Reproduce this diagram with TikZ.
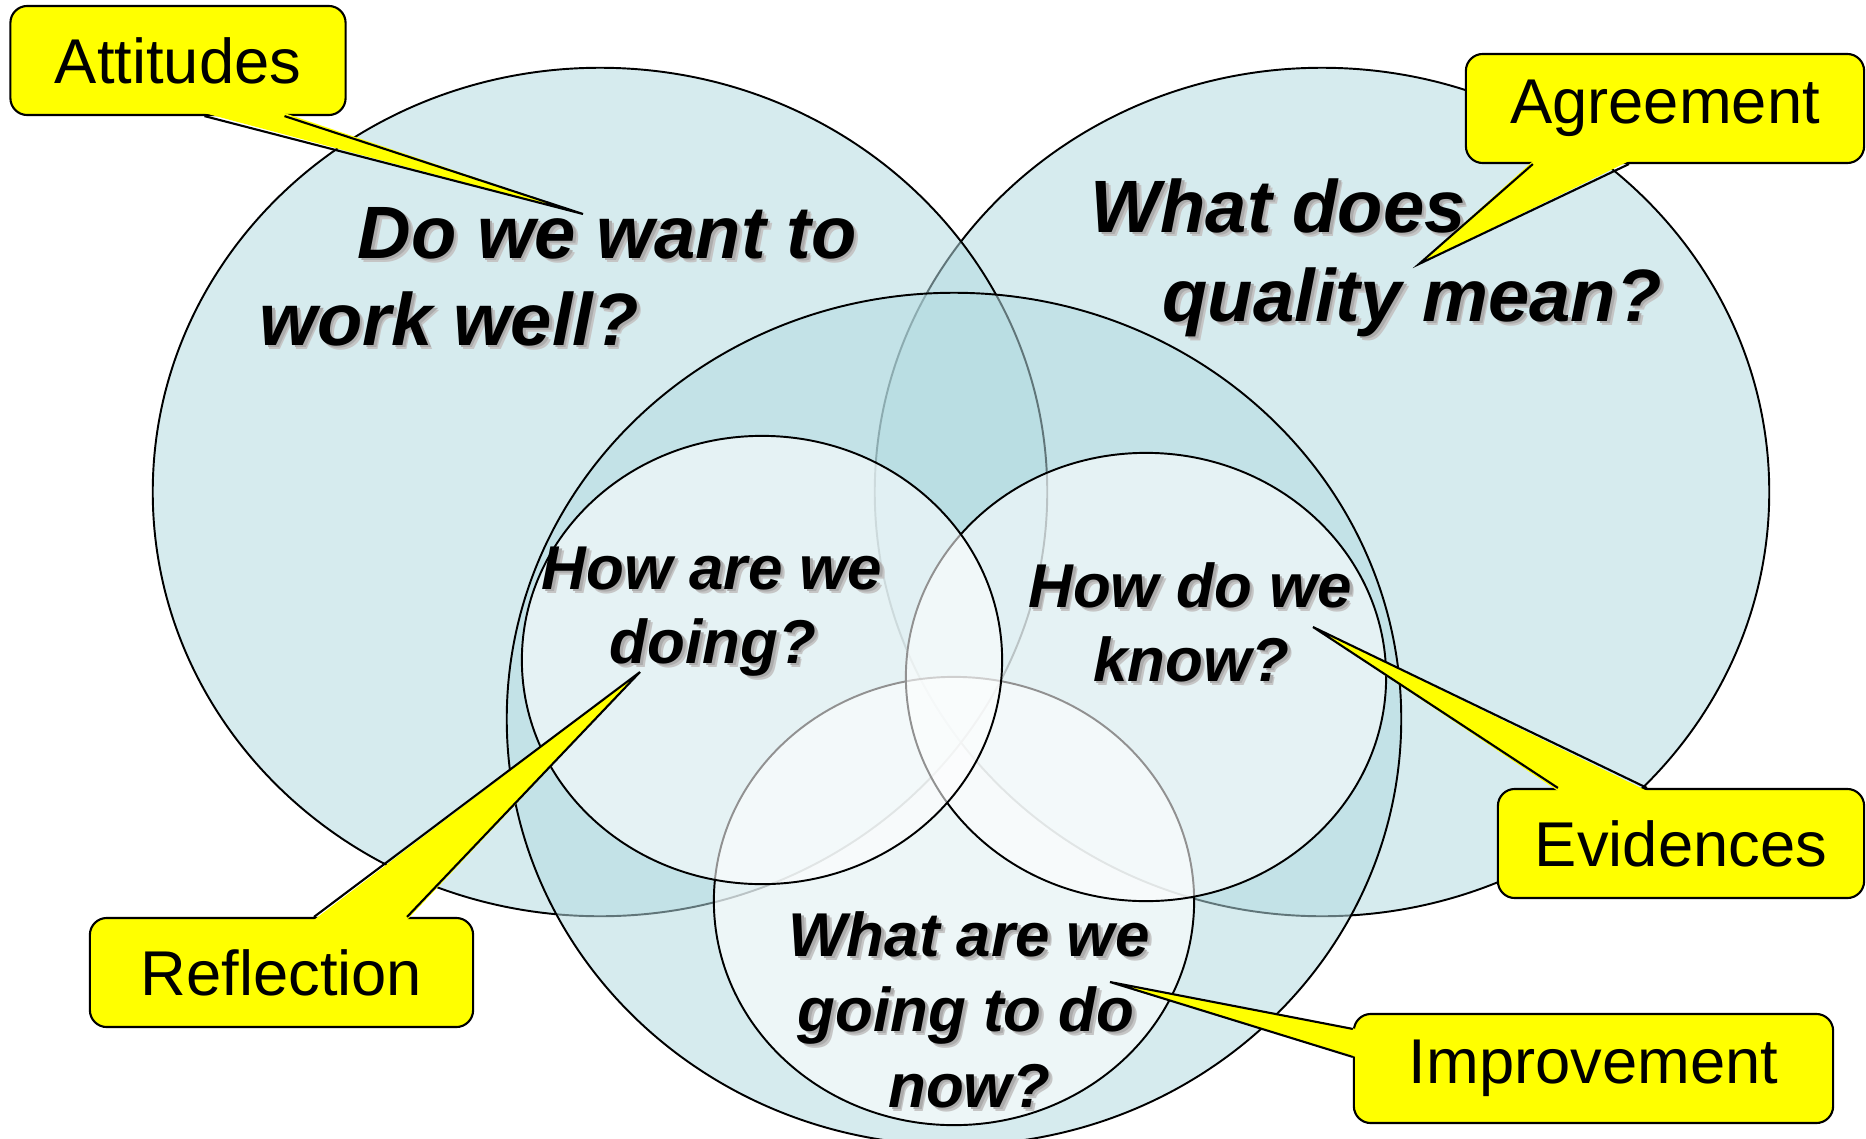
\documentclass[tikz,border=0pt]{standalone}
\usepackage{fontspec}
\setmainfont{Liberation Sans}
\usepackage{tikz}
\definecolor{azulclaro}{RGB}{179,218,224}
\definecolor{amarelo}{HTML}{FFFF00}
\definecolor{sombra}{gray}{0.35}

% texto com sombra suave
\newcommand{\comsombra}[1]{\leavevmode\rlap{\kern1.3pt\raisebox{-1.3pt}{\color{sombra!35}#1}}\rlap{\kern0.8pt\raisebox{-0.8pt}{\color{sombra!50}#1}}#1}

\tikzset{
  grande/.style={draw=black, line width=0.55pt, fill=azulclaro, fill opacity=0.54},
  pequeno/.style={draw=black, line width=0.55pt, fill=white, fill opacity=0.57},
  pergunta/.style={anchor=base, inner sep=0pt, font=\fontsize{21.1}{25}\selectfont\bfseries\itshape},
  perguntap/.style={anchor=base, inner sep=0pt, font=\fontsize{17.6}{21}\selectfont\bfseries\itshape},
  balao/.style={draw=black, line width=0.6pt, fill=amarelo, rounded corners=4.8pt,
    minimum height=1.09cm, inner sep=0pt, font=\fontsize{18}{21}\selectfont},
  cauda/.style={fill=amarelo},
  borda/.style={draw=black, line width=0.6pt, line join=miter},
}

\begin{document}
\begin{tikzpicture}[x=0.01cm, y=-0.01cm]
\useasboundingbox (0,0) rectangle (1866,1139);

% os tres circulos grandes
\draw[grande] (1322,492) ellipse [x radius=4.47cm, y radius=4.24cm];
\draw[grande] (600,492) ellipse [x radius=4.47cm, y radius=4.24cm];
\draw[grande] (954,719) ellipse [x radius=4.47cm, y radius=4.26cm];
% os tres pequenos
\draw[pequeno] (954,901) ellipse [x radius=2.40cm, y radius=2.24cm];
\draw[pequeno] (1146,677) ellipse [x radius=2.40cm, y radius=2.24cm];
\draw[pequeno] (762,660) ellipse [x radius=2.40cm, y radius=2.24cm];

% perguntas
\node[pergunta] (q1a) at (607,258) {\comsombra{Do we want to}};
\node[pergunta] (q1b) at (449,345) {\comsombra{work well?}};
\node[pergunta] (q2a) at (1278,232) {\comsombra{What does}};
\node[pergunta] (q2b) at (1412,321) {\comsombra{quality mean?}};
\node[perguntap] (q3a) at (712,589) {\comsombra{How are we}};
\node[perguntap] (q3b) at (713,663) {\comsombra{doing?}};
\node[perguntap] (q4a) at (1190,607) {\comsombra{How do we}};
\node[perguntap] (q4b) at (1191,681) {\comsombra{know?}};
\node[perguntap] (q5a) at (969,956) {\comsombra{What are we}};
\node[perguntap] (q5b) at (966,1031) {\comsombra{going to do}};
\node[perguntap] (q5c) at (969,1107) {\comsombra{now?}};

% baloes
\node[balao, minimum width=3.35cm] (atitudes) at (178,60.5) {Attitudes};
\node[balao, minimum width=3.98cm] (acordo) at (1665,108.5) {Agreement};
\node[balao, minimum width=3.66cm] (evidencias) at (1681,843.5) {Evidences};
\node[balao, minimum width=4.79cm] (melhoria) at (1593.5,1068.5) {Improvement};
\node[balao, minimum width=3.83cm] (reflexao) at (281.5,972.5) {Reflection};

\coordinate (pAt) at (583,214);
\coordinate (pAc) at (1419,264);
\coordinate (pEv) at (1313,627);
\coordinate (pMe) at (1110,982);
\coordinate (pRe) at (640,672);

\fill[cauda] ([xshift=1.95cm,yshift=0.03cm]atitudes.south west) -- (pAt) -- ([xshift=2.75cm,yshift=0.03cm]atitudes.south west) -- cycle;
\draw[borda] ([xshift=1.95cm]atitudes.south west) -- (pAt) -- ([xshift=2.75cm]atitudes.south west);

\fill[cauda] ([xshift=0.68cm,yshift=0.03cm]acordo.south west) -- (pAc) -- ([xshift=1.64cm,yshift=0.03cm]acordo.south west) -- cycle;
\draw[borda] ([xshift=0.68cm]acordo.south west) -- (pAc) -- ([xshift=1.64cm]acordo.south west);

\fill[cauda] ([xshift=0.61cm,yshift=-0.03cm]evidencias.north west) -- (pEv) -- ([xshift=1.50cm,yshift=-0.03cm]evidencias.north west) -- cycle;
\draw[borda] ([xshift=0.61cm]evidencias.north west) -- (pEv) -- ([xshift=1.50cm]evidencias.north west);

\fill[cauda] ([xshift=0.03cm,yshift=-0.16cm]melhoria.north west) -- (pMe) -- ([xshift=0.03cm,yshift=-0.44cm]melhoria.north west) -- cycle;
\draw[borda] ([yshift=-0.16cm]melhoria.north west) -- (pMe) -- ([yshift=-0.44cm]melhoria.north west);

\fill[cauda] ([xshift=2.25cm,yshift=-0.03cm]reflexao.north west) -- (pRe) -- ([xshift=3.18cm,yshift=-0.03cm]reflexao.north west) -- cycle;
\draw[borda] ([xshift=2.25cm]reflexao.north west) -- (pRe) -- ([xshift=3.18cm]reflexao.north west);
\end{tikzpicture}
\end{document}
